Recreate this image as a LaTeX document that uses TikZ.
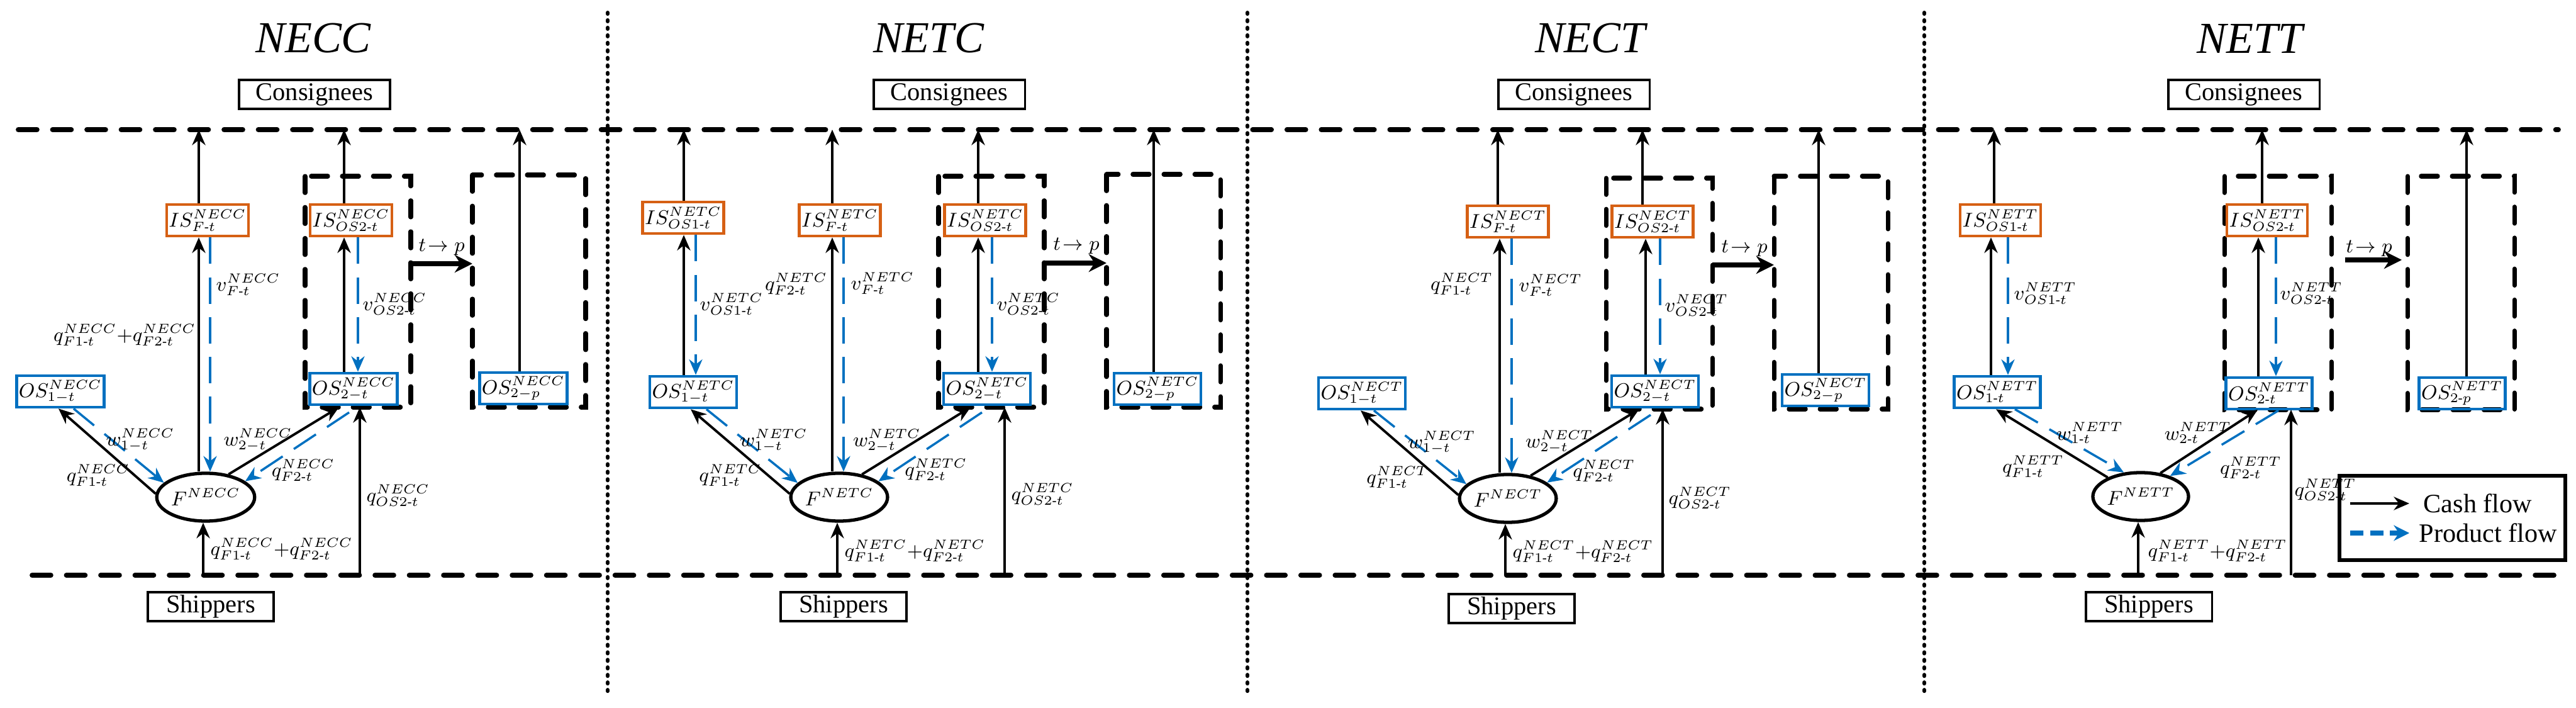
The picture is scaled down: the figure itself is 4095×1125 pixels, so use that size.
\documentclass[tikz,border=0pt]{standalone}
\usepackage{amsmath}
\usepackage{fontspec}
\setmainfont{Liberation Serif}
\usetikzlibrary{arrows.meta,shapes.geometric}
\definecolor{pblue}{RGB}{0,112,192}
\definecolor{porange}{RGB}{214,96,20}
\newcommand{\hy}{\text{-}}
\begin{document}
\begin{tikzpicture}[x=0.01cm,y=-0.01cm,
 cash/.style={draw=black,line width=1.1pt,-{Stealth[length=7pt,width=6pt]}},
 prod/.style={draw=pblue,line width=1pt,dash pattern=on 12pt off 6pt,-{Stealth[length=7pt,width=6pt]}},
 isbox/.style={draw=porange,line width=1.3pt,minimum width=0.98cm,minimum height=0.5cm,inner sep=1pt,font=\fontsize{9}{10}\selectfont},
 osbox/.style={draw=pblue,line width=1.3pt,minimum width=0.98cm,minimum height=0.5cm,inner sep=1pt,font=\fontsize{9}{10}\selectfont},
 fnode/.style={ellipse,draw,line width=1.5pt,minimum width=1.3cm,minimum height=0.76cm,inner sep=0pt,font=\fontsize{9}{10}\selectfont},
 dbox/.style={draw,line width=2pt,dash pattern=on 7.5pt off 6.5pt,line cap=round},
 hdash/.style={line width=2.2pt,dash pattern=on 8.5pt off 7pt,line cap=round},
 sep/.style={line width=1.7pt,dash pattern=on 0.6pt off 2.8pt,line cap=round},
 lbl/.style={font=\fontsize{9}{10}\selectfont,inner sep=0pt},
 lw/.style={lbl,anchor=west},
 le/.style={lbl,anchor=east},
 ttl/.style={font=\fontsize{20}{22}\selectfont\itshape,inner sep=0pt},
 tbox/.style={draw,line width=0.9pt,minimum width=2.4cm,minimum height=0.46cm,inner sep=0pt,font=\fontsize{11.5}{12}\selectfont},
 tparr/.style={draw,line width=2pt,-{Stealth[length=8pt,width=8pt]}}
]
\useasboundingbox (0,0) rectangle (4095,1125);
% frame lines
\coordinate (topA) at (29,206); \coordinate (topB) at (4067,206);
\coordinate (botA) at (51,914); \coordinate (botB) at (4067,914);
\draw[hdash] (topA) -- (topB);
\draw[hdash] (botA) -- (botB);
\foreach \i/\x in {1/966,2/1983,3/3059}{
 \coordinate (sa\i) at (\x,20); \coordinate (sb\i) at (\x,1100);
 \draw[sep] (sa\i) -- (sb\i);}

% ===== Panel 1: NECC =====
\node[ttl] (t1) at (498,61) {NECC};
\node[tbox] (c1) at (500,150) {Consignees};
\node[tbox,minimum width=2cm] (s1) at (335,964) {Shippers};
\coordinate (da1nw) at (485,280); \coordinate (da1se) at (653,647);
\coordinate (db1nw) at (751,278); \coordinate (db1se) at (931,647);
\draw[dbox] (da1nw) rectangle (da1se);
\draw[dbox] (db1nw) rectangle (db1se);
\node[isbox] (isF1) at (330,350) {$IS^{NECC}_{F\hy t}$};
\node[isbox] (isB1) at (558,350) {$IS^{NECC}_{OS2\hy t}$};
\node[osbox] (osA1) at (96,622) {$OS^{NECC}_{1-t}$};
\node[osbox] (osB1) at (562,618) {$OS^{NECC}_{2-t}$};
\node[osbox] (osP1) at (832,617) {$OS^{NECC}_{2-p}$};
\node[fnode] (F1) at (327,790) {$F^{NECC}$};
\draw[cash] (316,0 |- F1.north) -- (316,0 |- isF1.south);
\draw[cash] (316,0 |- isF1.north) -- (316,0 |- topA);
\draw[prod] (334,0 |- isF1.south) -- (334,0 |- F1.north);
\draw[cash] (547,0 |- osB1.north) -- (547,0 |- isB1.south);
\draw[cash] (547,0 |- isB1.north) -- (547,0 |- topA);
\draw[prod] (569,0 |- isB1.south) -- (569,0 |- osB1.north);
\draw[cash] (826,0 |- osP1.north) -- (826,0 |- topA);
\draw[cash] (F1.176) -- ([xshift=-0.03cm]osA1.south);
\draw[prod] ([xshift=0.21cm]osA1.south) -- (F1.161);
\draw[cash] (F1.45) -- ([xshift=-0.23cm]osB1.south |- da1se);
\draw[prod] ([xshift=-0.07cm,yshift=-0.1cm]osB1.south) -- (F1.22);
\draw[cash] (323,0 |- botA) -- (323,0 |- F1.south);
\draw[cash] (572,0 |- botA) -- (572,0 |- da1se);
\draw[tparr] (da1se |- 0,419) -- (db1nw |- 0,419);
\node[lbl] at (702,393) {$t\!\to p$};
\node[lw] at (343,452) {$v^{NECC}_{F\hy t}$};
\node[lw] at (576,483) {$v^{NECC}_{OS2\hy t}$};
\node[le] at (312,532) {$q^{NECC}_{F1\hy t}{+}q^{NECC}_{F2\hy t}$};
\node[lbl] at (223,699) {$w^{NECC}_{1-t}$};
\node[lbl] at (156,755) {$q^{NECC}_{F1\hy t}$};
\node[lbl] at (410,699) {$w^{NECC}_{2-t}$};
\node[lbl] at (482,747) {$q^{NECC}_{F2\hy t}$};
\node[lw] at (582,787) {$q^{NECC}_{OS2\hy t}$};
\node[lw] at (334,872) {$q^{NECC}_{F1\hy t}{+}q^{NECC}_{F2\hy t}$};

% ===== Panel 2: NETC =====
\node[ttl] (t2) at (1476,61) {NETC};
\node[tbox] (c2) at (1509,150) {Consignees};
\node[tbox,minimum width=2cm] (s2) at (1341,964) {Shippers};
\coordinate (da2nw) at (1492,280); \coordinate (da2se) at (1660,647);
\coordinate (db2nw) at (1759,277); \coordinate (db2se) at (1940,647);
\draw[dbox] (da2nw) rectangle (da2se);
\draw[dbox] (db2nw) rectangle (db2se);
\node[isbox] (isA2) at (1086,346) {$IS^{NETC}_{OS1\hy t}$};
\node[isbox] (isF2) at (1335,350) {$IS^{NETC}_{F\hy t}$};
\node[isbox] (isB2) at (1566,350) {$IS^{NETC}_{OS2\hy t}$};
\node[osbox] (osA2) at (1102,623) {$OS^{NETC}_{1-t}$};
\node[osbox] (osB2) at (1569,618) {$OS^{NETC}_{2-t}$};
\node[osbox] (osP2) at (1840,618) {$OS^{NETC}_{2-p}$};
\node[fnode] (F2) at (1334,790) {$F^{NETC}$};
\draw[cash] (1087,0 |- osA2.north) -- (1087,0 |- isA2.south);
\draw[cash] (1087,0 |- isA2.north) -- (1087,0 |- topA);
\draw[prod] (1106,0 |- isA2.south) -- (1106,0 |- osA2.north);
\draw[cash] (1323,0 |- F2.north) -- (1323,0 |- isF2.south);
\draw[cash] (1323,0 |- isF2.north) -- (1323,0 |- topA);
\draw[prod] (1341,0 |- isF2.south) -- (1341,0 |- F2.north);
\draw[cash] (1555,0 |- osB2.north) -- (1555,0 |- isB2.south);
\draw[cash] (1555,0 |- isB2.north) -- (1555,0 |- topA);
\draw[prod] (1577,0 |- isB2.south) -- (1577,0 |- osB2.north);
\draw[cash] (1834,0 |- osP2.north) -- (1834,0 |- topA);
\draw[cash] (F2.176) -- ([xshift=-0.04cm]osA2.south);
\draw[prod] ([xshift=0.21cm]osA2.south) -- (F2.161);
\draw[cash] (F2.45) -- ([xshift=-0.26cm]osB2.south |- da2se);
\draw[prod] ([xshift=-0.08cm,yshift=-0.1cm]osB2.south) -- (F2.22);
\draw[cash] (1331,0 |- botA) -- (1331,0 |- F2.south);
\draw[cash] (1597,0 |- botA) -- (1597,0 |- da2se);
\draw[tparr] (da2se |- 0,418) -- (db2nw |- 0,418);
\node[lbl] at (1711,391) {$t\!\to p$};
\node[lw] at (1112,483) {$v^{NETC}_{OS1\hy t}$};
\node[le] at (1316,451) {$q^{NETC}_{F2\hy t}$};
\node[lw] at (1352,450) {$v^{NETC}_{F\hy t}$};
\node[lw] at (1584,483) {$v^{NETC}_{OS2\hy t}$};
\node[lbl] at (1230,700) {$w^{NETC}_{1-t}$};
\node[lbl] at (1161,755) {$q^{NETC}_{F1\hy t}$};
\node[lbl] at (1410,700) {$w^{NETC}_{2-t}$};
\node[lbl] at (1488,746) {$q^{NETC}_{F2\hy t}$};
\node[lw] at (1607,785) {$q^{NETC}_{OS2\hy t}$};
\node[lw] at (1342,875) {$q^{NETC}_{F1\hy t}{+}q^{NETC}_{F2\hy t}$};

% ===== Panel 3: NECT =====
\node[ttl] (t3) at (2528,61) {NECT};
\node[tbox] (c3) at (2502,150) {Consignees};
\node[tbox,minimum width=2cm] (s3) at (2403,967) {Shippers};
\coordinate (da3nw) at (2553,283); \coordinate (da3se) at (2722,650);
\coordinate (db3nw) at (2820,280); \coordinate (db3se) at (3001,650);
\draw[dbox] (da3nw) rectangle (da3se);
\draw[dbox] (db3nw) rectangle (db3se);
\node[isbox] (isF3) at (2397,352) {$IS^{NECT}_{F\hy t}$};
\node[isbox] (isB3) at (2627,352) {$IS^{NECT}_{OS2\hy t}$};
\node[osbox] (osA3) at (2165,625) {$OS^{NECT}_{1-t}$};
\node[osbox] (osB3) at (2631,622) {$OS^{NECT}_{2-t}$};
\node[osbox] (osP3) at (2902,620) {$OS^{NECT}_{2-p}$};
\node[fnode] (F3) at (2397,792) {$F^{NECT}$};
\draw[cash] (2384,0 |- F3.north) -- (2384,0 |- isF3.south);
\draw[cash] (2381,0 |- isF3.north) -- (2381,0 |- topA);
\draw[prod] (2403,0 |- isF3.south) -- (2403,0 |- F3.north);
\draw[cash] (2616,0 |- osB3.north) -- (2616,0 |- isB3.south);
\draw[cash] (2611,0 |- isB3.north) -- (2611,0 |- topA);
\draw[prod] (2639,0 |- isB3.south) -- (2639,0 |- osB3.north);
\draw[cash] (2891,0 |- osP3.north) -- (2891,0 |- topA);
\draw[cash] (F3.176) -- ([xshift=-0.02cm]osA3.south);
\draw[prod] ([xshift=0.19cm]osA3.south) -- (F3.161);
\draw[cash] (F3.45) -- ([xshift=-0.25cm]osB3.south |- da3se);
\draw[prod] ([xshift=-0.07cm,yshift=-0.1cm]osB3.south) -- (F3.22);
\draw[cash] (2393,0 |- botA) -- (2393,0 |- F3.south);
\draw[cash] (2643,0 |- botA) -- (2643,0 |- da3se);
\draw[tparr] (da3se |- 0,421) -- (db3nw |- 0,421);
\node[lbl] at (2773,395) {$t\!\to p$};
\node[le] at (2374,451) {$q^{NECT}_{F1\hy t}$};
\node[lw] at (2414,453) {$v^{NECT}_{F\hy t}$};
\node[lw] at (2646,485) {$v^{NECT}_{OS2\hy t}$};
\node[lbl] at (2292,703) {$w^{NECT}_{1-t}$};
\node[lbl] at (2222,758) {$q^{NECT}_{F1\hy t}$};
\node[lbl] at (2479,702) {$w^{NECT}_{2-t}$};
\node[lbl] at (2550,748) {$q^{NECT}_{F2\hy t}$};
\node[lw] at (2652,791) {$q^{NECT}_{OS2\hy t}$};
\node[lw] at (2404,876) {$q^{NECT}_{F1\hy t}{+}q^{NECT}_{F2\hy t}$};

% ===== Panel 4: NETT =====
\node[ttl] (t4) at (3577,61) {NETT};
\node[tbox] (c4) at (3567,150) {Consignees};
\node[tbox,minimum width=2cm] (s4) at (3416,964) {Shippers};
\coordinate (da4nw) at (3536,280); \coordinate (da4se) at (3706,651);
\coordinate (db4nw) at (3827,280); \coordinate (db4se) at (3997,651);
\draw[dbox] (da4nw) rectangle (da4se);
\draw[dbox] (db4nw) rectangle (db4se);
\node[isbox] (isA4) at (3180,350) {$IS^{NETT}_{OS1\hy t}$};
\node[isbox] (isB4) at (3604,350) {$IS^{NETT}_{OS2\hy t}$};
\node[osbox] (osA4) at (3175,623) {$OS^{NETT}_{1\hy t}$};
\node[osbox] (osB4) at (3607,625) {$OS^{NETT}_{2\hy t}$};
\node[osbox] (osP4) at (3914,625) {$OS^{NETT}_{2\hy p}$};
\node[fnode] (F4) at (3403,789) {$F^{NETT}$};
\draw[cash] (3165,0 |- osA4.north) -- (3165,0 |- isA4.south);
\draw[cash] (3170,0 |- isA4.north) -- (3170,0 |- topA);
\draw[prod] (3192,0 |- isA4.south) -- (3192,0 |- osA4.north);
\draw[cash] (3590,0 |- osB4.north) -- (3590,0 |- isB4.south);
\draw[cash] (3596,0 |- isB4.north) -- (3596,0 |- topA);
\draw[prod] (3618,0 |- isB4.south) -- (3618,0 |- osB4.north);
\draw[cash] (3921,0 |- osP4.north) -- (3921,0 |- topA);
\draw[cash] (F4.150) -- ([xshift=-0.02cm]osA4.south);
\draw[prod] ([xshift=0.28cm]osA4.south) -- (F4.125);
\draw[cash] (F4.50) -- ([xshift=-0.18cm]osB4.south |- da4se);
\draw[prod] ([xshift=0.15cm]osB4.south) -- (F4.35);
\draw[cash] (3399,0 |- botA) -- (3399,0 |- F4.south);
\draw[cash] (3642,0 |- botA) -- (3642,0 |- da4se);
\coordinate (tpA4) at (3728,413); \coordinate (tpB4) at (3818,413);
\draw[tparr] (tpA4) -- (tpB4);
\node[lbl] at (3766,395) {$t\!\to p$};
\node[lw] at (3201,466) {$v^{NETT}_{OS1\hy t}$};
\node[lw] at (3624,466) {$v^{NETT}_{OS2\hy t}$};
\node[lbl] at (3322,688) {$w^{NETT}_{1\hy t}$};
\node[lbl] at (3232,741) {$q^{NETT}_{F1\hy t}$};
\node[lbl] at (3494,688) {$w^{NETT}_{2\hy t}$};
\node[lbl] at (3578,743) {$q^{NETT}_{F2\hy t}$};
\node[lw] at (3647,778) {$q^{NETT}_{OS2\hy t}$};
\node[lw] at (3414,875) {$q^{NETT}_{F1\hy t}{+}q^{NETT}_{F2\hy t}$};

% legend
\coordinate (lgNW) at (3719,756); \coordinate (lgSE) at (4078,890);
\draw[line width=1.6pt] (lgNW) rectangle (lgSE);
\coordinate (lgA) at (3736,800); \coordinate (lgB) at (3830,800);
\coordinate (lgC) at (3736,847); \coordinate (lgD) at (3830,847);
\draw[cash] (lgA) -- (lgB);
\draw[draw=pblue,line width=2pt,dash pattern=on 6pt off 3pt,-{Stealth[length=7pt,width=7pt]}] (lgC) -- (lgD);
\node[anchor=west,font=\fontsize{12}{13}\selectfont,inner sep=0pt] (lg1) at (3852,800) {Cash flow};
\node[anchor=west,font=\fontsize{12}{13}\selectfont,inner sep=0pt] (lg2) at (3845,847) {Product flow};
\end{tikzpicture}
\end{document}
